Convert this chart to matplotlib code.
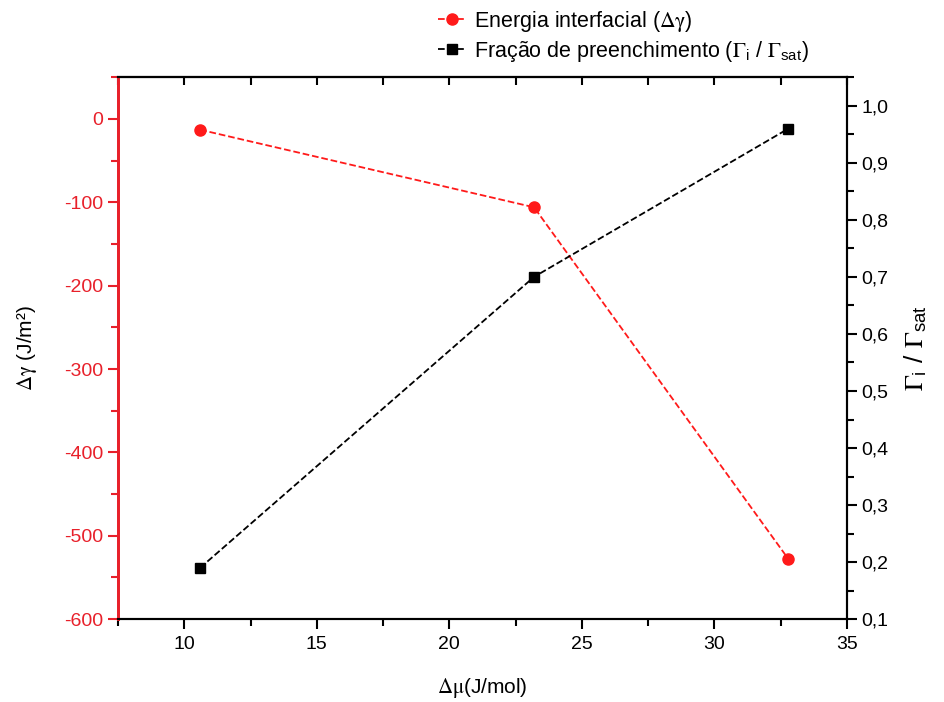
import matplotlib.pyplot as plt
from matplotlib.ticker import MultipleLocator, FuncFormatter
from matplotlib.lines import Line2D

plt.rcParams['font.family'] = ['Liberation Sans', 'DejaVu Sans']
plt.rcParams['mathtext.fontset'] = 'stix'
plt.rcParams['axes.unicode_minus'] = False

# data
delta_mu = [10.6, 23.2, 32.8]
delta_gamma = [-13, -106, -528]
fill_fraction = [0.19, 0.70, 0.96]

fig = plt.figure(figsize=(9.44, 7.02), dpi=100)
ax = fig.add_axes([0.125, 0.118, 0.772, 0.772])
ax2 = ax.twinx()

ax.plot(delta_mu, delta_gamma, '--', color='#ff1a1a', lw=1.3,
        marker='o', ms=8, mfc='#ff1a1a', mec='#ff1a1a')
ax2.plot(delta_mu, fill_fraction, '--', color='black', lw=1.3,
         marker='s', ms=7, mfc='black', mec='black')

ax.set_xlim(7.5, 35)
ax.set_ylim(-600, 50)
ax2.set_ylim(0.1, 1.05)

red = '#e8202a'
ax.xaxis.set_major_locator(MultipleLocator(5))
ax.xaxis.set_minor_locator(MultipleLocator(2.5))
ax.yaxis.set_major_locator(MultipleLocator(100))
ax.yaxis.set_minor_locator(MultipleLocator(50))
ax2.yaxis.set_major_locator(MultipleLocator(0.1))
ax2.yaxis.set_minor_locator(MultipleLocator(0.05))
ax2.yaxis.set_major_formatter(FuncFormatter(lambda v, p: f'{v:.1f}'.replace('.', ',')))

ax.tick_params(axis='x', which='both', direction='out', labelsize=14, width=1.5, pad=5)
ax.tick_params(axis='x', which='major', length=7)
ax.tick_params(axis='x', which='minor', length=5)
ax.tick_params(axis='y', which='both', direction='out', colors=red, labelsize=14, width=1.5)
ax.tick_params(axis='y', which='major', length=7)
ax.tick_params(axis='y', which='minor', length=5)
ax2.tick_params(axis='y', which='both', direction='out', labelsize=14, width=1.5)
ax2.tick_params(axis='y', which='major', length=7)
ax2.tick_params(axis='y', which='minor', length=5)

# top ticks pointing inward
top = ax.secondary_xaxis('top')
top.xaxis.set_major_locator(MultipleLocator(2.5))
top.tick_params(axis='x', direction='in', length=6, width=1.5, labeltop=False)
top.spines['top'].set_linewidth(1.5)

for s in ['top', 'right', 'bottom']:
    ax2.spines[s].set_linewidth(1.5)
    ax.spines[s].set_linewidth(1.5)
ax2.spines['left'].set_color(red)
ax2.spines['left'].set_linewidth(2)
ax.spines['left'].set_color(red)
ax.spines['left'].set_linewidth(2)

ax.set_xlabel(r'$\mathrm{\Delta\mu}$(J/mol)', fontsize=15, labelpad=17)
ax.set_ylabel(r'$\mathrm{\Delta\gamma}$ (J/m²)', fontsize=15, labelpad=18)
ax2.set_ylabel(r'$\mathrm{\Gamma}_\mathregular{i}$ / $\mathrm{\Gamma}_\mathregular{sat}$',
               fontsize=19, labelpad=10)

handles = [
    Line2D([], [], ls='--', color='#ff1a1a', marker='o', ms=8, lw=1.3),
    Line2D([], [], ls='--', color='black', marker='s', ms=7, lw=1.3),
]
labels = [r'Energia interfacial ($\mathrm{\Delta\gamma}$)',
          r'Fração de preenchimento ($\mathrm{\Gamma}_\mathregular{i}$ / $\mathrm{\Gamma}_\mathregular{sat}$)']
fig.legend(handles, labels, loc='upper left', bbox_to_anchor=(0.455, 1.0),
           frameon=False, fontsize=15.5, handlelength=1.3, handletextpad=0.35,
           labelspacing=0.25, borderaxespad=0.0)

fig.savefig('out.png', dpi=100)
